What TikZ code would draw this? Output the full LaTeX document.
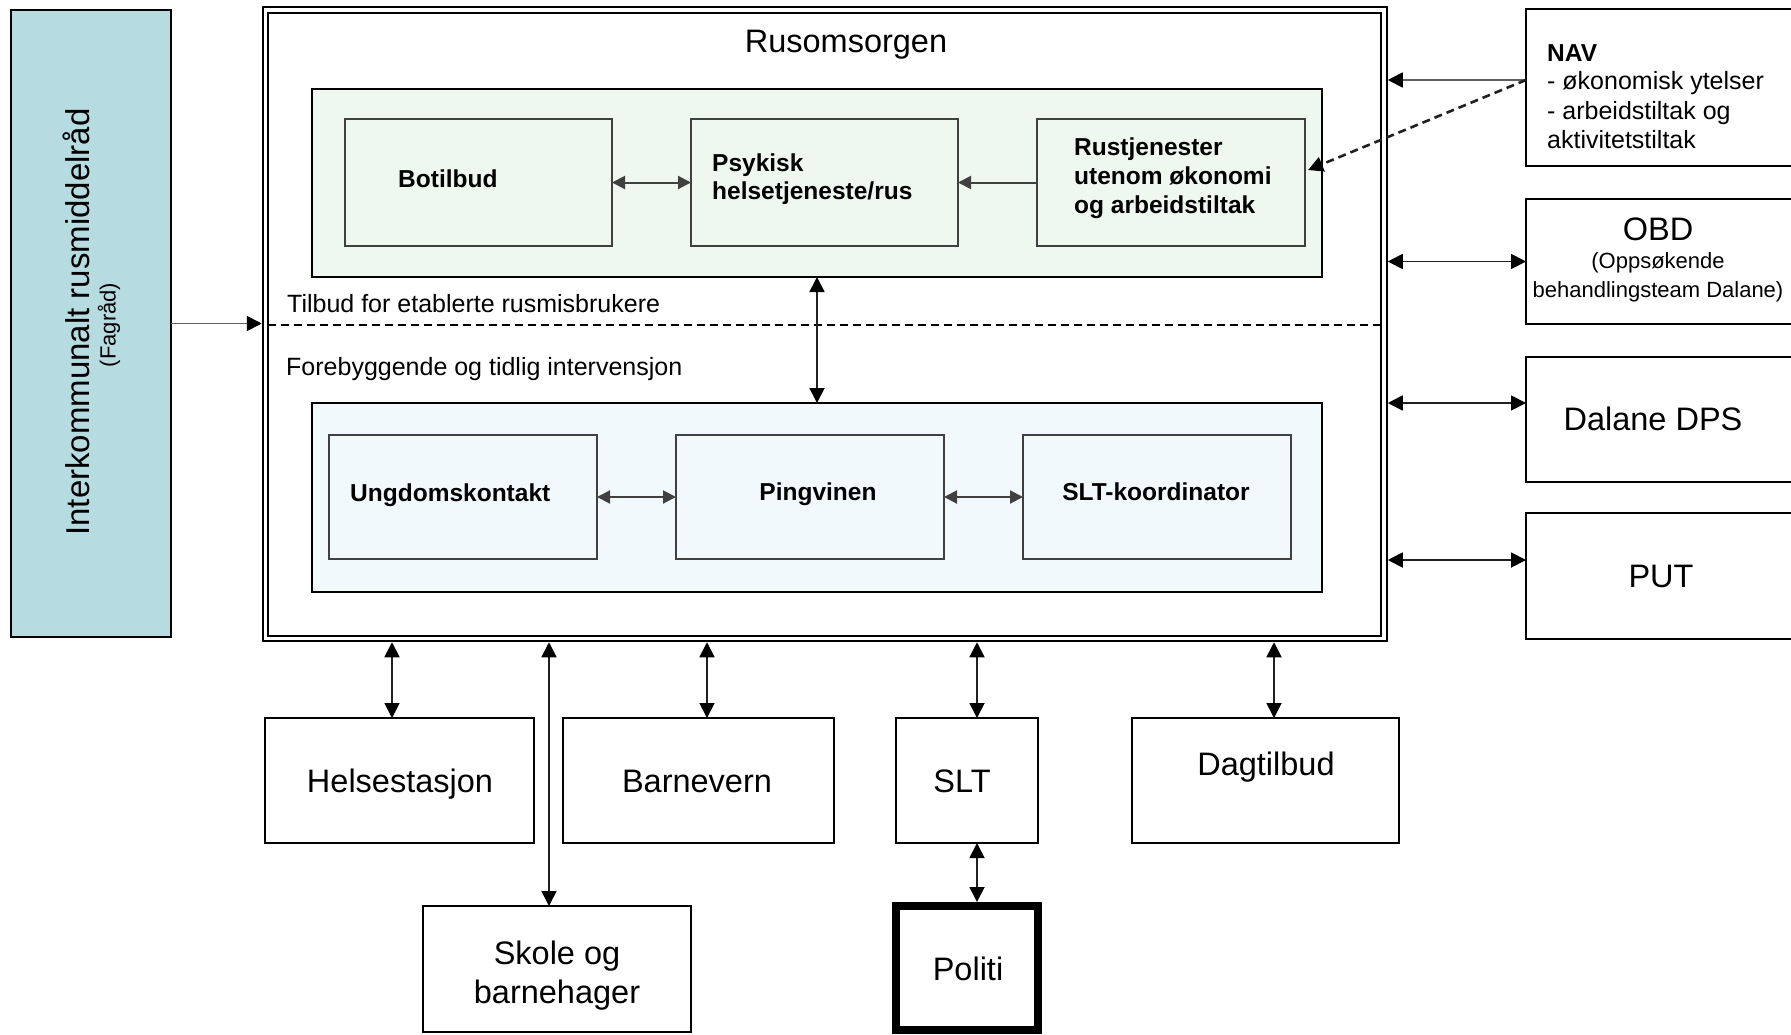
\documentclass[tikz,border=0pt]{standalone}
\usepackage{fontspec}
\setmainfont{Liberation Sans}
\usetikzlibrary{arrows.meta}
\definecolor{ikrblue}{HTML}{B6DCE2}
\definecolor{pgreen}{HTML}{EEF8EE}
\definecolor{pblue}{HTML}{F2F9FC}
\definecolor{agray}{HTML}{404040}
\definecolor{lgray}{HTML}{606060}
\definecolor{lnblack}{HTML}{202020}
\begin{document}
\begin{tikzpicture}[x=1pt,y=-1pt,
  box/.style={draw, line width=1.6pt, inner sep=0pt, outer sep=0pt, rectangle},
  ibox/.style={box, draw=agray, line width=1.4pt},
  big/.style={inner sep=0pt, font=\fontsize{32.5}{38.5}\selectfont},
  med/.style={inner sep=0pt, font=\fontsize{25}{29.5}\selectfont},
  sml/.style={inner sep=0pt, font=\fontsize{22}{26}\selectfont},
  bld/.style={inner sep=0pt, font=\fontsize{24.5}{28.5}\selectfont\bfseries},
  tip/.tip={Triangle[length=15pt,width=15pt,color=black]},
  gtip/.tip={Triangle[length=13pt,width=13pt,color=agray]},
  arrtwo/.style={line width=1.8pt, draw=lnblack, tip-tip},
  arrone/.style={line width=1.8pt, draw=lnblack, -tip},
  garrtwo/.style={line width=2pt, draw=agray, gtip-gtip},
  garrone/.style={line width=2pt, draw=agray, -gtip},
]
\useasboundingbox (0,0) rectangle (1791,1034);
\clip (0,0) rectangle (1791,1034);

% left blue box
\node[box, fill=ikrblue, minimum width=160pt, minimum height=627pt] (ikr) at (91,323.5) {};
\node[big, rotate=90, anchor=base, font=\fontsize{33}{38}\selectfont] (ikrt) at (89,322) {Interkommunalt rusmiddelråd};
\node[sml, rotate=90, anchor=base] (ikrf) at (115.5,325) {(Fagråd)};

% Rusomsorgen outer double box
\node[draw, double, double distance=3.5pt, line width=2pt, inner sep=0pt, outer sep=3.75pt,
      minimum width=1118.5pt, minimum height=628.5pt] (rus) at (824.75,324.25) {};
\node[big, anchor=base] (rust0) at (846,52) {Rusomsorgen};

% green group
\node[box, fill=pgreen, minimum width=1010pt, minimum height=188pt] (grn) at (817,183) {};
\node[ibox, fill=pgreen, minimum width=267pt, minimum height=127pt] (bot) at (478.5,182.5) {};
\node[ibox, fill=pgreen, minimum width=267pt, minimum height=127pt] (psy) at (824.5,182.5) {};
\node[ibox, fill=pgreen, minimum width=268pt, minimum height=127pt] (rst) at (1171,182.5) {};
\node[bld, anchor=base west] (bott) at (398,187) {Botilbud};
\node[bld, anchor=base west] (psyt1) at (712,171) {Psykisk};
\node[bld, anchor=base west] (psyt2) at (712,199) {helsetjeneste/rus};
\node[bld, anchor=base west] (rstt1) at (1074,155) {Rustjenester};
\node[bld, anchor=base west] (rstt2) at (1074,184) {utenom økonomi};
\node[bld, anchor=base west] (rstt3) at (1074,213) {og arbeidstiltak};

\node[med, anchor=base west] (tilb) at (287,312) {Tilbud for etablerte rusmisbrukere};
\draw[line width=1.6pt, dash pattern=on 8pt off 5pt] (268,325) -- (1381,325);
\node[med, anchor=base west] (fore) at (286,375) {Forebyggende og tidlig intervensjon};

% light blue group
\node[box, fill=pblue, minimum width=1010pt, minimum height=189pt] (lbl) at (817,497.5) {};
\node[ibox, fill=pblue, minimum width=268pt, minimum height=124pt] (ung) at (463,497) {};
\node[ibox, fill=pblue, minimum width=268pt, minimum height=124pt] (png) at (810,497) {};
\node[ibox, fill=pblue, minimum width=268pt, minimum height=124pt] (sltk) at (1157,497) {};
\node[bld, anchor=base west] (ungt) at (350,501) {Ungdomskontakt};
\node[bld, anchor=base] (pngt) at (818,500) {Pingvinen};
\node[bld, anchor=base] (sltkt) at (1156,500) {SLT-koordinator};

% inner arrows
\draw[garrtwo] (bot.east) -- (psy.west);
\draw[garrone] (rst.west) -- (psy.east);
\draw[garrtwo] (ung.east) -- (png.west);
\draw[garrtwo] (png.east) -- (sltk.west);
\draw[arrtwo] (grn.south) -- (lbl.north);

% left arrow
\draw[line width=1.8pt, draw=lgray, -tip] (ikr.east) -- (ikr.east -| rus.west);

% right boxes
\node[box, minimum width=274pt, minimum height=157pt] (nav) at (1663,87.5) {};
\node[box, minimum width=274pt, minimum height=125pt] (obd) at (1663,261.5) {};
\node[box, minimum width=274pt, minimum height=125pt] (dps) at (1663,419.5) {};
\node[box, minimum width=274pt, minimum height=126pt] (put) at (1663,576) {};
\node[bld, anchor=base west] (navt1) at (1547,61) {NAV};
\node[med, anchor=base west] (navt2) at (1547,89) {- økonomisk ytelser};
\node[med, anchor=base west] (navt3) at (1547,119) {- arbeidstiltak og};
\node[med, anchor=base west] (navt4) at (1547,148) {aktivitetstiltak};
\node[big, anchor=base] (obdt1) at (1658,240) {OBD};
\node[sml, anchor=base] (obdt2) at (1658,268) {(Oppsøkende};
\node[sml, anchor=base] (obdt3) at (1658,297) {behandlingsteam Dalane)};
\node[big, anchor=base] (dpst) at (1653,430) {Dalane DPS};
\node[big, anchor=base] (putt) at (1661,587) {PUT};

\coordinate (navA) at ([yshift=7.5pt]nav.west);
\draw[arrone, draw=lgray] (navA) -- (navA -| rus.east);
\draw[line width=2.6pt, draw=lnblack, dash pattern=on 8pt off 5pt, -tip] (navA) -- ([yshift=12.5pt,xshift=3pt]rst.east);
\draw[arrtwo] (obd.west) -- (obd.west -| rus.east);
\coordinate (dpsA) at ([yshift=16.5pt]dps.west);
\draw[arrtwo] (dpsA) -- (dpsA -| rus.east);
\coordinate (putA) at ([yshift=16pt]put.west);
\draw[arrtwo] (putA) -- (putA -| rus.east);

% bottom boxes
\node[box, minimum width=269pt, minimum height=125pt] (hel) at (399.5,780.5) {};
\node[box, minimum width=271pt, minimum height=125pt] (bar) at (698.5,780.5) {};
\node[box, minimum width=142pt, minimum height=125pt] (slt) at (967,780.5) {};
\node[box, minimum width=267pt, minimum height=125pt] (dag) at (1265.5,780.5) {};
\node[box, minimum width=268pt, minimum height=126pt] (sko) at (557,969) {};
\node[draw, line width=8pt, inner sep=0pt, minimum width=142pt, minimum height=124pt] (pol) at (967,968) {};
\node[big, anchor=base] (helt) at (400,792) {Helsestasjon};
\node[big, anchor=base] (bart) at (697,792) {Barnevern};
\node[big, anchor=base] (sltt) at (962,792) {SLT};
\node[big, anchor=base] (dagt) at (1266,775) {Dagtilbud};
\node[big, anchor=base] (skot1) at (557,964) {Skole og};
\node[big, anchor=base] (skot2) at (557,1003) {barnehager};
\node[big, anchor=base] (polt) at (968,980) {Politi};

\coordinate (helA) at ([xshift=-7.5pt]hel.north);
\draw[arrtwo] (helA) -- (helA |- rus.south);
\coordinate (skoA) at ([xshift=-8pt]sko.north);
\draw[arrtwo] (skoA) -- (skoA |- rus.south);
\coordinate (barA) at ([xshift=8.5pt]bar.north);
\draw[arrtwo] (barA) -- (barA |- rus.south);
\coordinate (sltA) at ([xshift=10pt]slt.north);
\draw[arrtwo] (sltA) -- (sltA |- rus.south);
\coordinate (dagA) at ([xshift=8.5pt]dag.north);
\draw[arrtwo] (dagA) -- (dagA |- rus.south);
\coordinate (polA) at ([xshift=10pt]pol.north);
\draw[arrtwo] (polA) -- (polA |- slt.south);
\end{tikzpicture}
\end{document}
